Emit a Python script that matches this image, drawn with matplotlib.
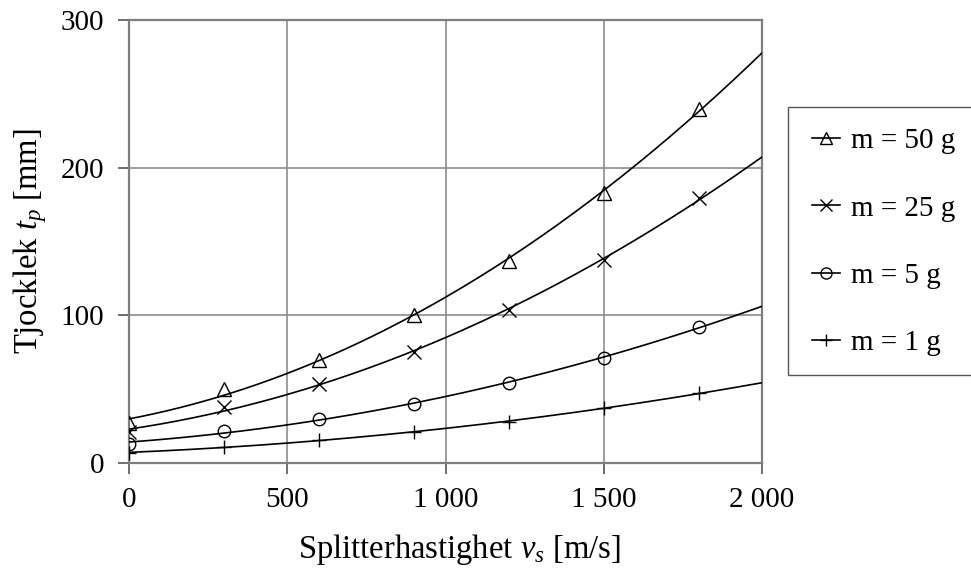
import numpy as np
import matplotlib
matplotlib.use("Agg")
import matplotlib.pyplot as plt
from matplotlib.patches import Rectangle

# splitter velocity [m/s] at the measured points
speeds = [0, 300, 600, 900, 1200, 1500, 1800]

# plate thickness [mm]
t_50g = [27, 50, 70, 100, 137, 182.6, 240]
t_25g = [21, 38, 53.5, 75.4, 103.6, 137.4, 179.2]
t_5g = [13, 21.9, 29.6, 40, 54.4, 70.9, 92.3]
t_1g = [7, 10.6, 15.6, 21.2, 28, 37, 47.2]

labels = ["m = 50 g", "m = 25 g", "m = 5 g", "m = 1 g"]
markers = ["^", "x", "o", "+"]

x_ticks = [0, 500, 1000, 1500, 2000]
x_tick_labels = ["0", "500", "1 000", "1 500", "2 000"]
y_ticks = [0, 100, 200, 300]

plt.rcParams["font.family"] = ["Liberation Serif", "DejaVu Serif"]
plt.rcParams["mathtext.fontset"] = "custom"
plt.rcParams["mathtext.rm"] = "Liberation Serif"
plt.rcParams["mathtext.it"] = "Liberation Serif:italic"
plt.rcParams["font.size"] = 21

fig = plt.figure(figsize=(9.71, 5.70), dpi=100)
ax = fig.add_axes([129 / 971, 1 - 463 / 570, (762 - 129) / 971, (463 - 20) / 570])

x_line = np.linspace(0, 2000, 200)
handles = []
for values, lab, mk in zip([t_50g, t_25g, t_5g, t_1g], labels, markers):
    # 2nd order trendline through the measured points, as in the original
    coef = np.polyfit(speeds, values, 2)
    ax.plot(x_line, np.polyval(coef, x_line), color="black", lw=1.2, zorder=3)
    ax.plot(speeds, values, linestyle="none", marker=mk, markersize=10 if mk != "o" else 9,
            markerfacecolor="none", markeredgecolor="black", markeredgewidth=1.0, zorder=4)
    h, = ax.plot([], [], color="black", lw=1.2, marker=mk, markersize=8,
                 markerfacecolor="none", markeredgecolor="black", markeredgewidth=1.0)
    handles.append(h)

ax.set_xlim(0, 2000)
ax.set_ylim(0, 300)
ax.set_xticks(x_ticks)
ax.set_xticklabels(x_tick_labels)
ax.set_yticks(y_ticks)
ax.grid(True, color="#8c8c8c", lw=1.2)
ax.set_axisbelow(True)
for s in ax.spines.values():
    s.set_color("#7f7f7f")
    s.set_linewidth(1.6)
ax.tick_params(direction="out", length=8, width=1.2, color="#555555")
ax.tick_params(axis="x", pad=9)
ax.tick_params(axis="y", pad=10)
ax.set_xlabel("Splitterhastighet $v_s$ [m/s]", fontsize=23.5)
ax.xaxis.set_label_coords(0.522, -0.155)
ax.set_ylabel("Tjocklek $t_p$ [mm]", fontsize=23.5, labelpad=8)

# legend frame sticking out of the right edge
fig.patches.append(Rectangle((788 / 971, 1 - 375 / 570), 200 / 971, 268 / 570,
                             transform=fig.transFigure, facecolor="white",
                             edgecolor="#555555", lw=1.0))
fig.legend(handles, labels, loc="upper left", bbox_to_anchor=(812 / 971, 1 - 128 / 570),
           frameon=False, handlelength=0.95, handletextpad=0.4, labelspacing=1.4,
           borderaxespad=0, borderpad=0)

fig.savefig("out.png", dpi=100)
